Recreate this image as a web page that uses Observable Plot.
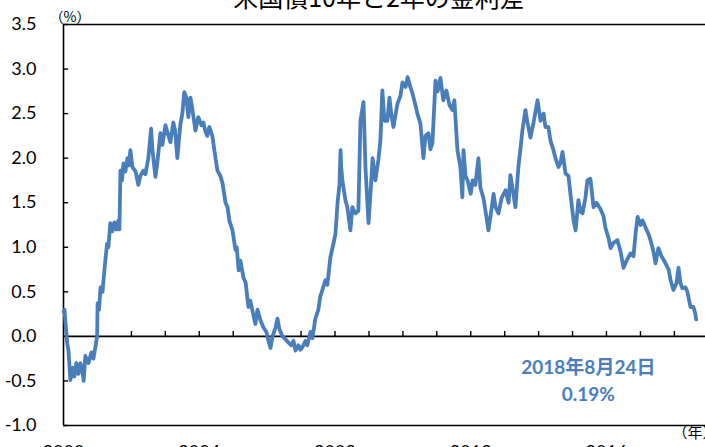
<!DOCTYPE html>
<html>
<head>
<meta charset="utf-8">
<script src="https://cdn.jsdelivr.net/npm/d3@7"></script>
<script src="https://cdn.jsdelivr.net/npm/@observablehq/plot@0.6"></script>
<style>
  html, body { margin: 0; padding: 0; background: #fff; overflow: hidden; }
  #wrap { position: relative; width: 705px; height: 447px; overflow: hidden; }
  #title { position: absolute; top: -16px; left: 379px; transform: translateX(-50%);
           white-space: nowrap; font-family: "Noto Sans CJK JP", sans-serif; font-size: 25px;
           line-height: 1; color: #000; }
  #chart { position: absolute; top: 0; left: 0; }
</style>
</head>
<body>
<div id="wrap">
  <div id="chart"></div>
  <div id="title">米国債10年と2年の金利差</div>
</div>
<script>
// US 10Y - 2Y Treasury spread (%)
const spreadSeries = [
  ["2000-01-03",0.28],["2000-01-12",0.30],["2000-01-25",0.12],["2000-02-10",-0.08],["2000-02-23",-0.15],
  ["2000-03-15",-0.49],["2000-04-05",-0.35],["2000-04-27",-0.45],["2000-05-18",-0.30],["2000-06-09",-0.42],
  ["2000-07-01",-0.30],["2000-07-20",-0.38],["2000-08-05",-0.50],["2000-08-23",-0.22],["2000-09-25",-0.30],
  ["2000-10-27",-0.18],["2000-11-18",-0.25],["2000-12-09",-0.12],["2000-12-28",0.00],
  ["2001-01-02",0.37],["2001-01-17",0.30],["2001-02-03",0.55],["2001-02-24",0.50],["2001-03-04",0.60],
  ["2001-03-26",0.85],["2001-04-14",1.04],["2001-04-28",1.00],["2001-05-19",1.27],["2001-06-10",1.18],
  ["2001-07-01",1.28],["2001-07-23",1.20],["2001-08-14",1.30],["2001-08-25",1.20],["2001-09-05",1.86],
  ["2001-09-21",1.75],["2001-10-07",1.94],["2001-10-28",1.85],["2001-11-19",2.00],["2001-12-05",1.92],
  ["2001-12-21",2.09],
  ["2002-01-12",1.90],["2002-02-15",1.85],["2002-03-16",1.70],["2002-04-07",1.80],["2002-05-09",1.86],
  ["2002-06-01",1.82],["2002-07-02",2.00],["2002-08-01",2.33],["2002-08-15",2.10],["2002-09-16",1.79],
  ["2002-10-07",1.95],["2002-11-09",2.28],["2002-12-01",2.15],
  ["2003-01-02",2.37],["2003-02-04",2.25],["2003-02-25",2.18],["2003-03-28",2.40],["2003-04-18",2.30],
  ["2003-05-10",2.00],["2003-06-12",2.38],["2003-07-03",2.50],["2003-07-24",2.74],["2003-08-15",2.68],
  ["2003-09-06",2.46],["2003-09-28",2.68],["2003-10-19",2.55],["2003-11-21",2.31],["2003-12-22",2.46],
  ["2004-01-25",2.37],["2004-02-15",2.40],["2004-03-07",2.30],["2004-03-28",2.25],["2004-04-19",2.35],
  ["2004-05-21",2.25],["2004-06-24",2.00],["2004-07-15",1.86],["2004-08-16",1.80],["2004-09-07",1.72],
  ["2004-10-10",1.50],["2004-11-01",1.45],["2004-11-20",1.30],["2004-12-24",1.19],
  ["2005-01-25",0.97],["2005-02-08",1.00],["2005-02-28",0.74],["2005-03-19",0.85],["2005-04-21",0.66],
  ["2005-05-15",0.60],["2005-06-13",0.33],["2005-07-04",0.40],["2005-08-10",0.22],["2005-08-27",0.14],
  ["2005-09-19",0.30],["2005-10-21",0.18],["2005-11-22",0.10],["2005-12-24",0.05],
  ["2006-01-15",-0.05],["2006-02-06",-0.13],["2006-02-28",0.00],["2006-04-01",0.10],["2006-04-22",0.20],
  ["2006-05-13",0.08],["2006-06-15",0.00],["2006-07-16",-0.03],["2006-08-18",-0.07],["2006-09-19",-0.10],
  ["2006-10-11",-0.05],["2006-11-02",-0.16],["2006-12-04",-0.10],["2006-12-25",-0.15],
  ["2007-01-16",-0.12],["2007-02-18",-0.05],["2007-03-09",-0.10],["2007-04-12",0.05],["2007-05-03",-0.02],
  ["2007-06-04",0.20],["2007-07-06",0.30],["2007-07-27",0.45],["2007-08-18",0.52],["2007-09-20",0.63],
  ["2007-10-11",0.58],["2007-11-13",0.89],["2007-12-15",1.04],
  ["2008-01-06",1.15],["2008-01-28",1.49],["2008-02-18",1.70],["2008-03-01",2.09],["2008-03-08",1.90],
  ["2008-03-21",1.75],["2008-04-22",1.53],["2008-05-13",1.45],["2008-06-15",1.19],["2008-07-06",1.45],
  ["2008-08-08",1.38],["2008-09-09",1.41],["2008-10-01",2.42],["2008-11-03",2.63],["2008-11-24",1.90],
  ["2008-12-27",1.27],
  ["2009-01-17",1.60],["2009-02-09",2.00],["2009-03-11",1.75],["2009-04-12",1.98],["2009-05-04",2.20],
  ["2009-05-25",2.76],["2009-06-16",2.42],["2009-07-18",2.42],["2009-08-09",2.68],["2009-08-28",2.50],
  ["2009-09-21",2.35],["2009-11-03",2.61],["2009-12-06",2.70],["2009-12-27",2.85],
  ["2010-01-30",2.80],["2010-02-20",2.91],["2010-03-22",2.80],["2010-04-13",2.73],["2010-05-15",2.60],
  ["2010-06-06",2.50],["2010-07-08",2.39],["2010-08-10",2.00],["2010-09-01",2.25],["2010-10-03",2.28],
  ["2010-10-24",2.10],["2010-11-15",2.17],["2010-12-18",2.87],
  ["2011-01-10",2.75],["2011-02-09",2.90],["2011-03-12",2.65],["2011-04-14",2.76],["2011-05-16",2.60],
  ["2011-06-18",2.54],["2011-07-09",2.65],["2011-08-11",2.09],["2011-09-12",1.90],["2011-10-03",1.56],
  ["2011-10-15",2.09],["2011-11-06",1.80],["2011-11-28",1.75],
  ["2012-01-01",1.60],["2012-01-21",1.75],["2012-02-20",1.70],["2012-03-24",2.00],["2012-04-14",1.67],
  ["2012-05-17",1.55],["2012-06-08",1.41],["2012-07-10",1.19],["2012-08-01",1.35],["2012-09-03",1.60],
  ["2012-09-24",1.45],["2012-10-26",1.38],["2012-11-28",1.55],
  ["2013-01-10",1.64],["2013-02-12",1.50],["2013-03-03",1.81],["2013-04-04",1.60],["2013-04-26",1.45],
  ["2013-05-28",1.90],["2013-06-19",2.10],["2013-07-10",2.31],["2013-08-12",2.54],["2013-09-03",2.40],
  ["2013-10-05",2.23],["2013-11-07",2.40],["2013-12-20",2.65],
  ["2014-01-21",2.42],["2014-02-23",2.50],["2014-03-15",2.35],["2014-04-16",2.35],["2014-05-08",2.20],
  ["2014-06-09",2.09],["2014-07-01",2.00],["2014-08-03",1.90],["2014-08-24",1.95],["2014-09-15",2.07],
  ["2014-10-17",1.83],["2014-11-18",1.80],["2014-12-09",1.60],
  ["2015-01-12",1.30],["2015-02-03",1.19],["2015-03-05",1.53],["2015-03-27",1.40],["2015-04-18",1.38],
  ["2015-05-19",1.55],["2015-06-10",1.75],["2015-07-12",1.77],["2015-08-15",1.45],["2015-09-16",1.50],
  ["2015-10-28",1.43],["2015-11-30",1.35],["2015-12-21",1.22],
  ["2016-01-24",1.10],["2016-02-15",0.99],["2016-03-16",1.05],["2016-04-28",1.08],["2016-06-01",0.95],
  ["2016-07-03",0.77],["2016-08-04",0.85],["2016-09-16",0.93],["2016-10-18",0.90],["2016-11-09",1.15],
  ["2016-12-01",1.34],
  ["2017-01-03",1.25],["2017-01-24",1.30],["2017-02-26",1.22],["2017-03-28",1.15],["2017-04-19",1.08],
  ["2017-05-21",0.95],["2017-06-12",0.82],["2017-07-13",0.99],["2017-08-15",0.90],["2017-09-28",0.82],
  ["2017-11-01",0.75],["2017-11-21",0.63],["2017-12-22",0.52],
  ["2018-01-24",0.60],["2018-02-15",0.77],["2018-03-07",0.60],["2018-03-28",0.54],["2018-05-01",0.55],
  ["2018-05-21",0.50],["2018-06-23",0.33],["2018-07-25",0.33],["2018-08-15",0.25],["2018-08-24",0.19]
];
const yTicks = [-1.0, -0.5, 0.0, 0.5, 1.0, 1.5, 2.0, 2.5, 3.0, 3.5];
const labelYears = [2000, 2004, 2008, 2012, 2016];
const tickYears = [2001,2002,2003,2004,2005,2006,2007,2008,2009,2010,2011,2012,2013,2014,2015,2016,2017,2018];
const yUnit = "（%）";
const xUnit = "（年）";
const annotation = [
  {date: "2015-06-20", value: -0.35, text: "2018年8月24日"},
  {date: "2015-06-20", value: -0.66, text: "0.19%"}
];

const data = spreadSeries.map(([d, v]) => ({date: new Date(d), value: v}));
const start = new Date(Date.UTC(2000, 0, 1));
const end = new Date(Date.UTC(2018, 11, 2));
const lineColor = "#4a7ebb";

const chart = Plot.plot({
  width: 705,
  height: 447,
  marginLeft: 63,
  marginRight: 0,
  marginTop: 24,
  marginBottom: 22,
  x: {type: "utc", domain: [start, end]},
  y: {domain: [-1, 3.5]},
  style: {fontFamily: "Lato, 'Noto Sans CJK JP', sans-serif", fontSize: "18px", color: "#000", background: "#fff", overflow: "visible"},
  marks: [
    Plot.axisY({ticks: yTicks, tickFormat: d => d.toFixed(1), tickSize: 0, tickPadding: 27, label: null, fontSize: 18}),
    Plot.axisX({ticks: labelYears.map(y => new Date(Date.UTC(y, 0, 1))), tickFormat: d => String(d.getUTCFullYear()),
                tickSize: 0, tickPadding: 20, label: null, fontSize: 18}),
    // frame lines
    Plot.ruleY([3.5, -1], {stroke: "#000", strokeWidth: 1.6}),
    Plot.ruleX([start], {y1: -1, y2: 3.5, stroke: "#000", strokeWidth: 1.6}),
    Plot.ruleY([0], {stroke: "#000", strokeWidth: 1.6}),
    // inward y ticks
    Plot.ruleY(yTicks, {x1: start, x2: d3.utcDay.offset(start, 55), stroke: "#000", strokeWidth: 1.4}),
    // year ticks on zero line
    Plot.ruleX(tickYears.map(y => new Date(Date.UTC(y, 0, 1))), {y1: 0, y2: 0.055, stroke: "#000", strokeWidth: 1.4}),
    Plot.line(data, {x: "date", y: "value", stroke: lineColor, strokeWidth: 3.8, strokeLinejoin: "round"}),
    Plot.text(annotation, {x: d => new Date(d.date), y: "value", text: "text", fill: lineColor,
                           fontWeight: "bold", fontSize: 19, textAnchor: "middle"}),
    Plot.text([yUnit], {frameAnchor: "top-left", dx: -14, dy: -12, fontSize: 14,
                        fontFamily: "'Noto Sans CJK JP', sans-serif", textAnchor: "start"}),
    Plot.text([xUnit], {frameAnchor: "bottom-right", dx: -33, dy: 12, fontSize: 15,
                        fontFamily: "'Noto Sans CJK JP', sans-serif", textAnchor: "start"})
  ]
});
document.getElementById("chart").appendChild(chart);
</script>
</body>
</html>
